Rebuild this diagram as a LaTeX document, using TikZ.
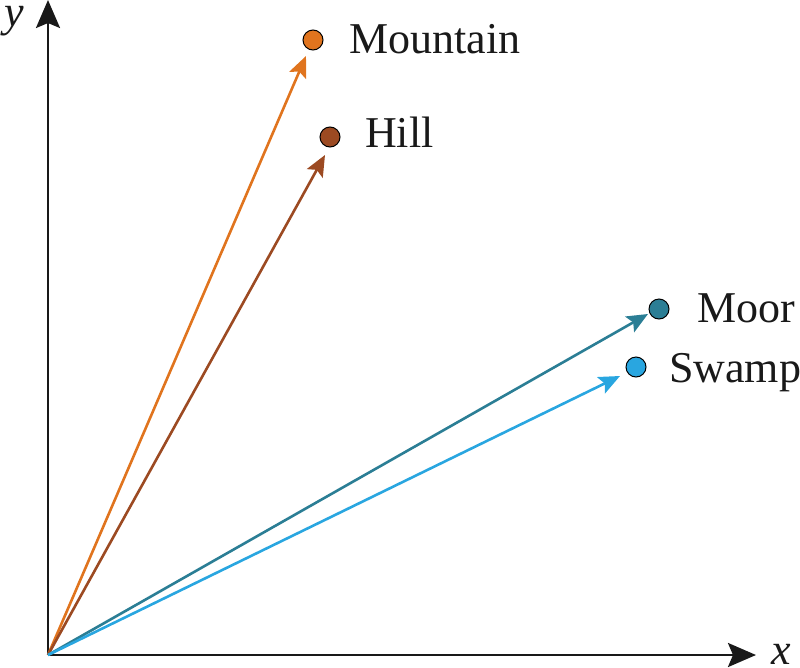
\documentclass[tikz,border=0pt]{standalone}
\usepackage{fontspec}
\setmainfont{Liberation Serif}
\usetikzlibrary{arrows.meta}
\definecolor{cMountain}{HTML}{E0741E}
\definecolor{cHill}{HTML}{9C4A22}
\definecolor{cMoor}{HTML}{2B7E95}
\definecolor{cSwamp}{HTML}{29A6E0}
\begin{document}
\begin{tikzpicture}[x=1pt,y=-1pt,
  axis/.style={line width=2.6pt,draw=black!90,-{Stealth[length=28pt,width=24pt,inset=5pt]}},
  vec/.style={line width=2.6pt,-{Stealth[length=21pt,width=18pt,inset=4pt]}},
  dot/.style={circle,draw=black,line width=1pt,minimum size=20pt,inner sep=0pt},
  lbl/.style={anchor=base west,font=\fontsize{44}{50}\selectfont,text=black!90,inner sep=0pt},
  axlbl/.style={font=\fontsize{44}{50}\selectfont\itshape,text=black!90,inner sep=0pt}]
\useasboundingbox (0,0) rectangle (800,667);
\coordinate (O) at (48,655);
\coordinate (ytip) at (48,0);
\coordinate (xtip) at (756,655);
\draw[axis] (O) -- (ytip);
\draw[axis] (O) -- (xtip);
\node[axlbl,anchor=base] (ylab) at (14,26) {y};
\node[axlbl,anchor=base] (xlab) at (781,664) {x};
% dots
\node[dot,fill=cMountain] (mountain) at (313,40) {};
\node[dot,fill=cHill] (hill) at (330,137) {};
\node[dot,fill=cMoor] (moor) at (659,309) {};
\node[dot,fill=cSwamp] (swamp) at (636,367) {};
% labels
\node[lbl] (tm) at (349,53) {Mountain};
\node[lbl] (th) at (365,147) {Hill};
\node[lbl] (tmo) at (697,322) {Moor};
\node[lbl] (ts) at (669,382) {Swamp};
% vectors
\coordinate (em) at (306,56);
\coordinate (eh) at (325,155);
\coordinate (emo) at (648,314);
\coordinate (es) at (620,376);
\draw[vec,cMountain] (O) -- (em);
\draw[vec,cHill] (O) -- (eh);
\draw[vec,cMoor] (O) -- (emo);
\draw[vec,cSwamp] (O) -- (es);
\end{tikzpicture}
\end{document}
